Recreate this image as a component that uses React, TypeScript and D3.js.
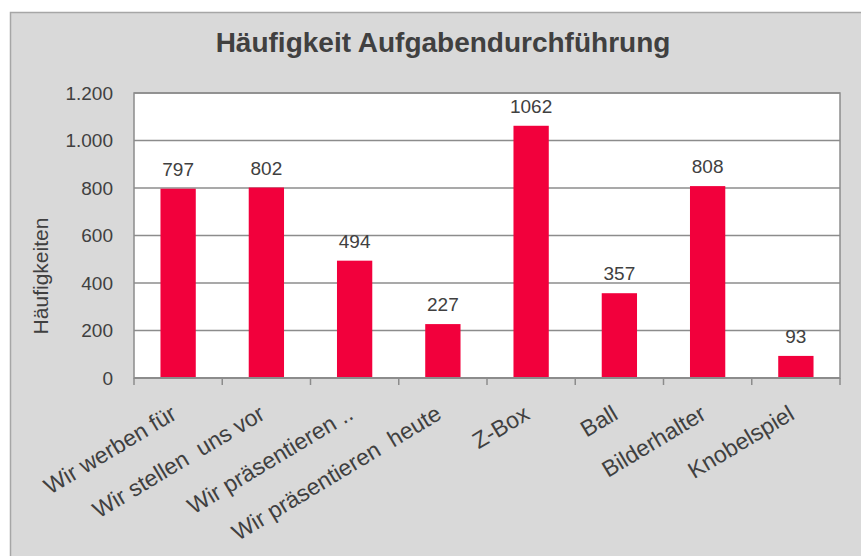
import React from "react";
import * as d3 from "d3";

const categories = [
  "Wir werben für",
  "Wir stellen  uns vor",
  "Wir präsentieren ..",
  "Wir präsentieren  heute",
  "Z-Box",
  "Ball",
  "Bilderhalter",
  "Knobelspiel",
];
const counts = [797, 802, 494, 227, 1062, 357, 808, 93];
const yTicks = [0, 200, 400, 600, 800, 1000, 1200];

const title = "Häufigkeit Aufgabendurchführung";
const yTitle = "Häufigkeiten";

function App() {
  const width = 861;
  const height = 556;
  const plot = { left: 134, right: 840, top: 93, bottom: 378 };
  const font = "'Liberation Sans', Arial, sans-serif";
  const textColor = "#404040";
  const gridColor = "#8c8c8c";

  // german number format -> 1.200
  const de = d3.formatLocale({ decimal: ",", thousands: ".", grouping: [3], currency: ["", " €"] });
  const fmt = de.format(",");

  const x = d3.scaleBand<string>()
    .domain(categories)
    .range([plot.left, plot.right])
    .paddingInner(0.6)
    .paddingOuter(0.3);
  const step = x.step();

  const y = d3.scaleLinear()
    .domain([0, 1200])
    .range([plot.bottom, plot.top]);

  const data = categories.map((name, i) => ({ name, value: counts[i] }));

  return (
    <svg width={width} height={height} style={{ position: "absolute", left: 0, top: 0 }} fontFamily={font}>
      <rect x={0} y={0} width={width} height={height} fill="#ffffff" />
      <rect x={10.5} y={12.5} width={width + 20} height={height + 20} fill="#d9d9d9" stroke="#a6a6a6" strokeWidth={1.5} />

      <text x={443} y={52} textAnchor="middle" fontSize={28} fontWeight="bold" fill={textColor}>{title}</text>

      {/* plot area */}
      <rect x={plot.left} y={plot.top} width={plot.right - plot.left} height={plot.bottom - plot.top}
        fill="#ffffff" stroke={gridColor} strokeWidth={1.5} />
      {yTicks.filter(t => t > 0).map(t => (
        <line key={t} x1={plot.left} x2={plot.right} y1={y(t)} y2={y(t)} stroke={gridColor} strokeWidth={1.5} />
      ))}
      {yTicks.map(t => (
        <text key={"l" + t} x={113} y={y(t)} dy="0.36em" textAnchor="end" fontSize={19} fill={textColor}>{fmt(t)}</text>
      ))}

      <text transform={`translate(48, 276) rotate(-90)`} textAnchor="middle" fontSize={21} fill={textColor}>{yTitle}</text>

      {/* bars */}
      {data.map(d => (
        <rect key={d.name} x={x(d.name)} y={y(d.value)} width={x.bandwidth()} height={y(0) - y(d.value)} fill="#f2003c" />
      ))}
      {data.map(d => (
        <text key={"v" + d.name} x={(x(d.name) as number) + x.bandwidth() / 2} y={y(d.value) - 13}
          textAnchor="middle" fontSize={19} fill={textColor}>{d.value}</text>
      ))}

      {/* x axis */}
      <line x1={plot.left} x2={plot.right} y1={plot.bottom} y2={plot.bottom} stroke={gridColor} strokeWidth={2} />
      {d3.range(categories.length + 1).map(i => (
        <line key={"t" + i} x1={plot.left + i * step} x2={plot.left + i * step} y1={plot.bottom} y2={plot.bottom + 7}
          stroke={gridColor} strokeWidth={1.5} />
      ))}
      {categories.map((c, i) => {
        const cx = plot.left + (i + 0.5) * step;
        return (
          <text key={"c" + c} transform={`translate(${cx}, 418) rotate(-31)`}
            textAnchor="end" fontSize={23} fill={textColor} style={{ whiteSpace: "pre" }}>{c}</text>
        );
      })}
    </svg>
  );
}

export default App;
